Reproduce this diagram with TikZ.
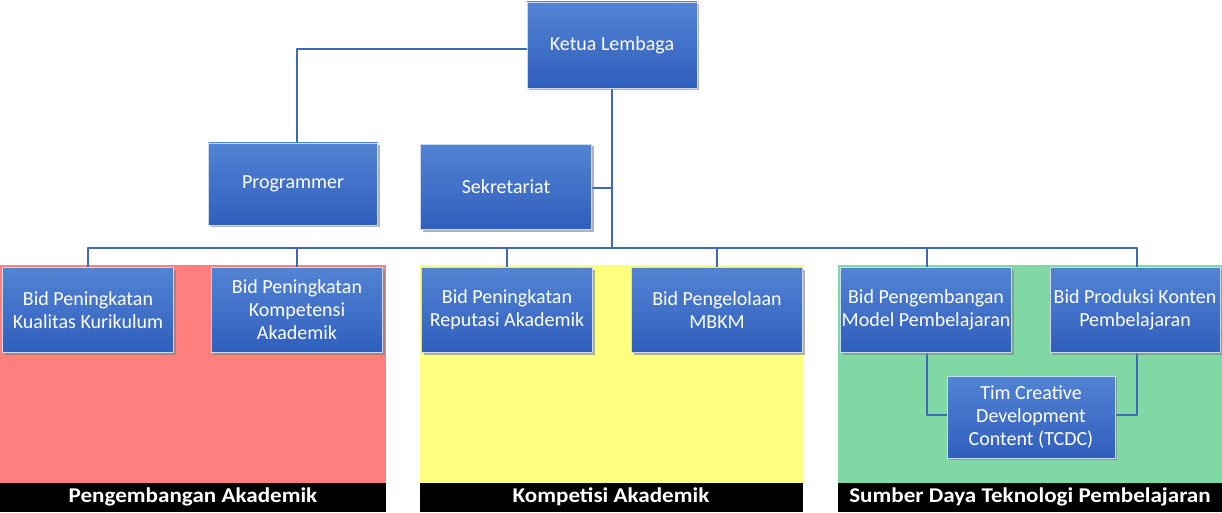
\documentclass[tikz,border=0pt]{standalone}
\usepackage{fontspec}
\setmainfont{Carlito}
\usetikzlibrary{shadows}

\definecolor{boxtop}{HTML}{5383D3}
\definecolor{boxbot}{HTML}{2F5FBD}
\definecolor{wire}{HTML}{3F68B8}
\definecolor{zonered}{HTML}{FF7F7F}
\definecolor{zoneyel}{HTML}{FFFF80}
\definecolor{zonegrn}{HTML}{80D8A4}

\begin{document}
\begin{tikzpicture}[x=1pt,y=-1pt,line cap=round,line join=round,
    unit/.style={rectangle,draw=white!70!boxtop,line width=0.8pt,top color=boxtop,bottom color=boxbot,
      drop shadow={shadow xshift=2pt,shadow yshift=-2pt,opacity=0.6},
      minimum width=171pt,minimum height=85pt,inner sep=1pt,align=center,
      text=white,font=\fontsize{20}{23}\selectfont},
    wire/.style={draw=wire,line width=1.6pt},
    bar/.style={text=white,xscale=1.1,font=\bfseries\fontsize{21}{23}\selectfont}]
  \useasboundingbox (0,0) rectangle (1222,513);
  % zones
  \fill[zonered] (0,265) rectangle (386,483);
  \fill[zoneyel] (420,265) rectangle (803,483);
  \fill[zonegrn] (838,265) rectangle (1222,483);
  \fill[black] (0,483) rectangle (386,512);
  \fill[black] (420,483) rectangle (803,512);
  \fill[black] (838,483) rectangle (1222,512);
  \node[bar] (zone1) at (193,497) {Pengembangan Akademik};
  \node[bar] (zone2) at (611,497) {Kompetisi Akademik};
  \node[bar] (zone3) at (1030,497) {Sumber Daya Teknologi Pembelajaran};
  % connectors first, boxes on top
  \coordinate (bus) at (612,248);
  \coordinate (prog turn) at (297,49);
  \draw[wire] (612,45) -- (bus);
  \draw[wire] (612,49) -- (prog turn) -- (297,185);
  \draw[wire] (506,188) -- (612,188);
  \draw[wire] (88,248) -- (1137,248);
  \foreach \x in {88,297,507,717,927,1137}
    \draw[wire] (\x,248) -- (\x,310);
  \draw[wire] (927,310) |- (1031,415);
  \draw[wire] (1137,310) |- (1031,415);
  % boxes
  \node[unit,minimum width=170pt,minimum height=86pt] (ketua) at (612,45) {Ketua Lembaga};
  \node[unit,minimum width=169pt,minimum height=82pt] (prog) at (293,184) {Programmer};
  \node[unit,minimum width=171pt,minimum height=85pt] (sekre) at (506,187) {Sekretariat};
  \node[unit] (kurikulum) at (88,310) {Bid Peningkatan\\Kualitas Kurikulum};
  \node[unit] (kompetensi) at (297,310) {Bid Peningkatan\\Kompetensi\\Akademik};
  \node[unit] (reputasi) at (507,310) {Bid Peningkatan\\Reputasi Akademik};
  \node[unit] (mbkm) at (717,310) {Bid Pengelolaan\\MBKM};
  \node[unit] (model) at (926,310) {Bid Pengembangan\\Model Pembelajaran};
  \node[unit,minimum width=170pt] (konten) at (1135,310) {Bid Produksi Konten\\Pembelajaran};
  \node[unit,minimum width=168pt,minimum height=82pt] (tcdc) at (1031,417) {Tim Creative\\Development\\Content (TCDC)};
\end{tikzpicture}
\end{document}
